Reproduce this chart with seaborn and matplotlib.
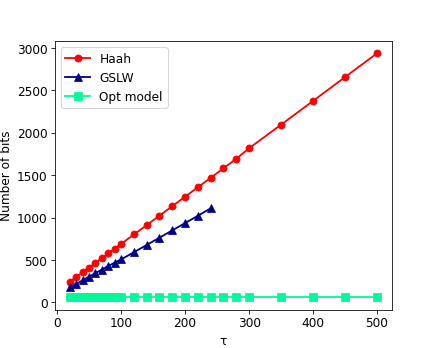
import pandas as pd
import numpy as np
import matplotlib
matplotlib.use("Agg")
import matplotlib.pyplot as plt
import seaborn as sns

# values
haah_tau = [20, 30, 40, 50, 60, 70, 80, 90, 100, 120, 140, 160, 180, 200,
            220, 240, 260, 280, 300, 350, 400, 450, 500]
haah_bits = [244, 300, 355, 410, 466, 522, 577, 632, 688, 800, 910, 1022, 1133, 1245,
             1356, 1468, 1580, 1692, 1816, 2094, 2374, 2655, 2936]

gslw_tau = [20, 30, 40, 50, 60, 70, 80, 90, 100, 120, 140, 160, 180, 200, 220, 240]
gslw_bits = [176, 218, 260, 302, 344, 386, 428, 468, 506, 590, 676, 762, 848, 934, 1020, 1108]

opt_tau = [20, 25, 30, 35, 40, 45, 50, 55, 60, 65, 70, 75, 80, 85, 90, 95, 100,
           120, 140, 160, 180, 200, 220, 240, 260, 280, 300, 350, 400, 450, 500]
opt_bits = [58] * len(opt_tau)

series = [
    ("Haah", haah_tau, haah_bits, "red", "o"),
    ("GSLW", gslw_tau, gslw_bits, "darkblue", "^"),
    ("Opt model", opt_tau, opt_bits, "mediumspringgreen", "s"),
]

plt.rcParams["font.size"] = 12

fig, ax = plt.subplots(figsize=(6, 4.8), dpi=436 / 6)

for name, tau, bits, color, marker in series:
    df = pd.DataFrame({"tau": tau, "bits": bits})
    sns.lineplot(data=df, x="tau", y="bits", ax=ax, color=color, marker=marker,
                 markersize=7, markeredgecolor=color, linewidth=1.8, label=name)

ax.set_xlabel("τ")
ax.set_ylabel("Number of bits")
ax.legend(loc="upper left")

plt.savefig("out.png")
